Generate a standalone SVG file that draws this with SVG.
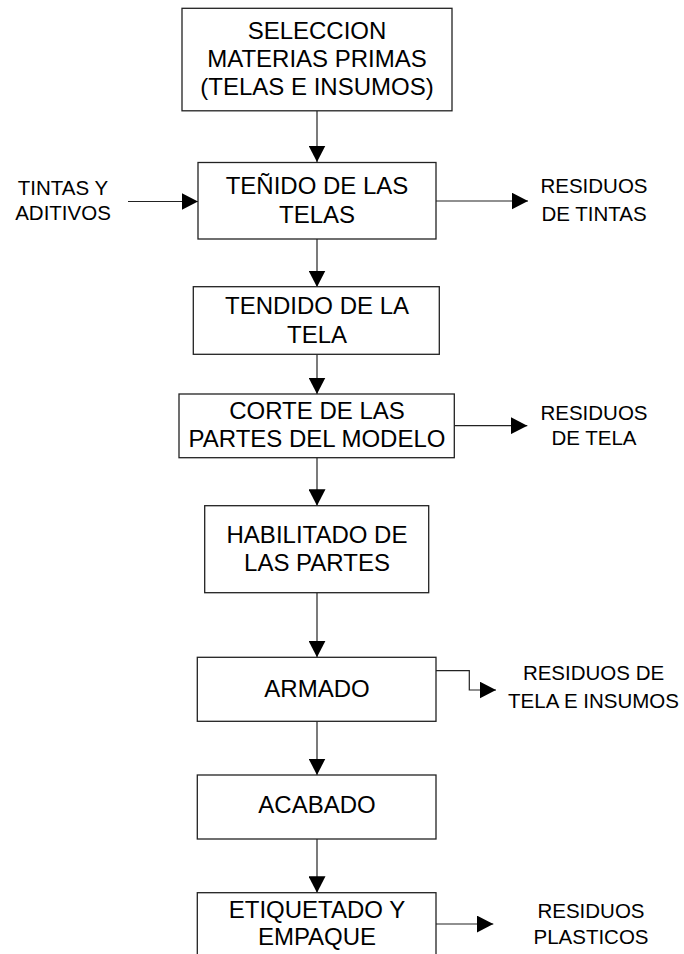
<svg xmlns="http://www.w3.org/2000/svg" width="684" height="954" viewBox="0 0 684 954">
<defs>
<marker id="arr" markerUnits="userSpaceOnUse" markerWidth="17" markerHeight="17" refX="16.5" refY="8.5" orient="auto">
<path d="M0,0 L16.5,8.5 L0,17 z" fill="#000"/>
</marker>
<style>
.box{fill:#fff;stroke:#222;stroke-width:1.3}
.t{font-family:"Liberation Sans",Arial,sans-serif;font-size:24px;fill:#000;text-anchor:middle}
.s{font-family:"Liberation Sans",Arial,sans-serif;font-size:20.5px;fill:#000;text-anchor:middle}
.c{fill:none;stroke:#222;stroke-width:1.2;marker-end:url(#arr)}
</style>
</defs>
<rect width="684" height="954" fill="#fff"/>
<g id="connectors">
<path class="c" d="M317,111 V162"/>
<path class="c" d="M128,201.5 H198"/>
<path class="c" d="M436,201 H528"/>
<path class="c" d="M317,239 V287"/>
<path class="c" d="M317,354.5 V394"/>
<path class="c" d="M454,425.7 H527.3"/>
<path class="c" d="M317,458 V505.7"/>
<path class="c" d="M317,593 V657.3"/>
<path class="c" d="M436,670.7 H469.3 V690 H496"/>
<path class="c" d="M317,721.3 V775"/>
<path class="c" d="M317,839 V892.7"/>
<path class="c" d="M436,924 H493.3"/>
</g>
<g id="n1">
<rect class="box" x="182" y="8.3" width="270" height="102.5"/>
<text class="t" x="317" y="38.5">SELECCION</text>
<text class="t" x="317" y="67">MATERIAS PRIMAS</text>
<text class="t" x="317" y="95">(TELAS E INSUMOS)</text>
</g>
<g id="n2">
<rect class="box" x="198" y="162.5" width="238" height="76.5"/>
<text class="t" x="317" y="194.3">TEÑIDO DE LAS</text>
<text class="t" x="317" y="222.7">TELAS</text>
</g>
<g id="n3">
<rect class="box" x="193.3" y="286.7" width="246" height="67.6"/>
<text class="t" x="317" y="314.3">TENDIDO DE LA</text>
<text class="t" x="317" y="342.7">TELA</text>
</g>
<g id="n4">
<rect class="box" x="179" y="394" width="275.3" height="63.7"/>
<text class="t" x="317" y="419.3">CORTE DE LAS</text>
<text class="t" x="317" y="447.3">PARTES DEL MODELO</text>
</g>
<g id="n5">
<rect class="box" x="204.7" y="505.7" width="224" height="87"/>
<text class="t" x="317" y="542.7">HABILITADO DE</text>
<text class="t" x="317" y="570.7">LAS PARTES</text>
</g>
<g id="n6">
<rect class="box" x="197.3" y="657.3" width="238.7" height="64"/>
<text class="t" x="317" y="696.7">ARMADO</text>
</g>
<g id="n7">
<rect class="box" x="197.3" y="775" width="238.7" height="64"/>
<text class="t" x="317" y="813.3">ACABADO</text>
</g>
<g id="n8">
<rect class="box" x="197.3" y="892.7" width="238.7" height="80"/>
<text class="t" x="317" y="917.7">ETIQUETADO Y</text>
<text class="t" x="317" y="945">EMPAQUE</text>
</g>
<g id="in1">
<text class="s" x="63" y="195">TINTAS Y</text>
<text class="s" x="63" y="220">ADITIVOS</text>
</g>
<g id="out1">
<text class="s" x="594" y="193.3">RESIDUOS</text>
<text class="s" x="594" y="220.7">DE TINTAS</text>
</g>
<g id="out2">
<text class="s" x="594" y="419.5">RESIDUOS</text>
<text class="s" x="594" y="444.5">DE TELA</text>
</g>
<g id="out3">
<text class="s" x="593.5" y="680">RESIDUOS DE</text>
<text class="s" x="593.5" y="708.3">TELA E INSUMOS</text>
</g>
<g id="out4">
<text class="s" x="591" y="917.7">RESIDUOS</text>
<text class="s" x="591" y="944">PLASTICOS</text>
</g>
</svg>
